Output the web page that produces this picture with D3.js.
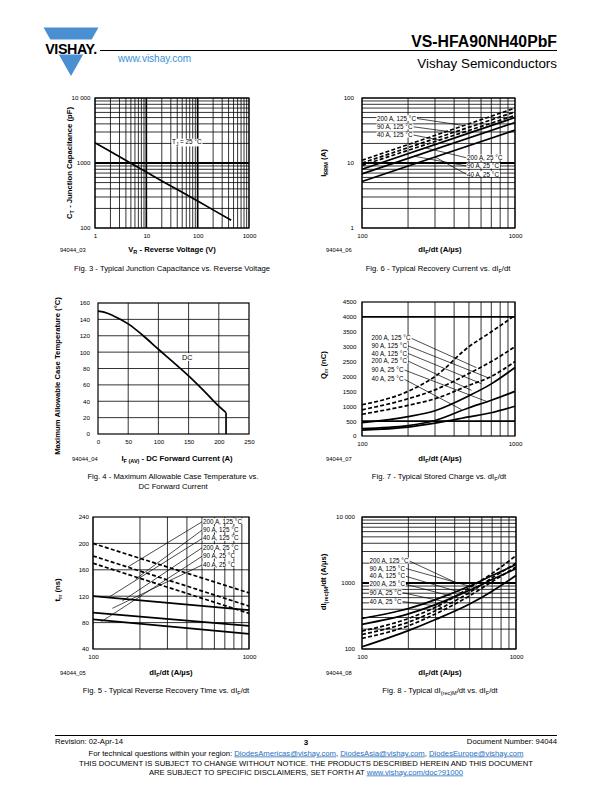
<!DOCTYPE html>
<html><head><meta charset="utf-8">
<script src="https://cdn.jsdelivr.net/npm/d3@7"></script>
<style>body{margin:0;background:#fff}svg{display:block}</style>
</head><body><svg id="page" width="612" height="792"></svg>
<script>
// ---------------- DATA ----------------
const seriesNames = ["200 A, 125 °C","90 A, 125 °C","40 A, 125 °C","200 A, 25 °C","90 A, 25 °C","40 A, 25 °C"];
const seriesTempC = [125,125,125,25,25,25];

const fig3VR = [1,2,5,10,20,50,100,200,450];
const fig3CT = [2050,1500,990,725,530,355,260,190,132];
const fig3XTicks = [1,10,100,1000];
const fig3YTicks = [100,1000,10000];
const fig3YTickLabels = ["100","1000","10 000"];

const fig4IF = [0,10,25,50,75,100,125,150,175,200,212];
const fig4TC = [150,148.8,144.5,134.5,120,103.5,87.5,71,53,34,26];
const fig4XTicks = [0,50,100,150,200,250];
const fig4YTicks = [0,20,40,60,80,100,120,140,160];

const fig6dIdt = [100,1000];
const fig6IRRM = [[11,70],[10,61],[9.2,54],[8,50],[6.8,42],[5.2,32]];
const fig6LeaderEnd = [[463,37.7],[400,29.7],[320,22.5],[260,17.1],[220,12.7],[300,12.4]];
const fig6YTicks = [1,10,100];

const fig7dIdt = [100,200,300,500,700,1000];
const fig7Qrr = [
  [1050,1500,2000,3000,3500,4050],
  [880,1250,1550,2100,2500,3000],
  [730,1030,1250,1700,2000,2500],
  [450,650,850,1350,1750,2300],
  [250,350,520,950,1200,1500],
  [200,300,430,640,780,1000]];
const fig7LeaderEnd = [[560,2294],[667,1958],[603,1757],[520,1533],[667,1141],[448,884]];
const fig7YTicks = [0,500,1000,1500,2000,2500,3000,3500,4000,4500];

const fig5dIdt = [100,1000];
const fig5trr = [[200,125],[181,105],[170,94],[120,99],[95,75],[85,63]];
const fig5LeaderEnd = [[167.6,164.5],[187.6,145.9],[127.9,119.2],[154.1,112.7],[113.1,81.5],[133,101.6]];
const fig5YTicks = [40,80,120,160,200,240];

const fig8dIdt = [100,200,300,500,700,1000];
const fig8dIrec = [
  [187,290,430,850,1400,2600],
  [166,255,380,720,1200,2000],
  [145,225,340,640,1050,1750],
  [290,410,560,900,1300,1900],
  [236,340,470,780,1130,1650],
  [108,190,280,480,750,1300]];
const fig8LeaderEnd = [[419,982],[565,826],[498,657],[429,587],[389,490],[326,437]];
const fig8YTicks = [100,1000,10000];
const fig8YTickLabels = ["100","1000","10 000"];

const dIdtTicks = [100,1000];

// ---------------- HELPERS ----------------
const svg = d3.select("#page");
const F = "'Liberation Sans', Arial, Helvetica, sans-serif";
const TITLE = 7.7, CAP = 7.7, FOOT = 7.7;

function rich(t, parts, fs){
  let down = false;
  parts.forEach(p=>{
    const isSub = typeof p === "object";
    const s = t.append("tspan").text(isSub ? p.sub : p);
    if(isSub){ s.attr("font-size", fs*0.72); if(!down) s.attr("dy", fs*0.3); down = true; }
    else { if(down) s.attr("dy", -fs*0.3); down = false; }
  });
  return t;
}
function txt(x, y, parts, fs, o={}){
  const t = svg.append("text").attr("x",x).attr("y",y).attr("font-size",fs).attr("font-family",F)
    .attr("text-anchor", o.anchor||"start").attr("font-weight", o.bold?"bold":"normal")
    .attr("fill", o.fill||"#000");
  if(o.rotate) t.attr("transform", `rotate(-90 ${x} ${y})`);
  rich(t, Array.isArray(parts)?parts:[parts], fs);
  return t;
}

function chart(o){
  const g = svg.append("g");
  const [xl,xr] = o.x.range(), [yb,yt] = o.y.range();
  g.selectAll(null).data(o.xGrid).join("line")
    .attr("x1",d=>o.x(d)).attr("x2",d=>o.x(d)).attr("y1",yt).attr("y2",yb)
    .attr("stroke","#000").attr("stroke-width",d=>(o.xThick||[]).includes(d)?1.7:0.8);
  g.selectAll(null).data(o.yGrid).join("line")
    .attr("y1",d=>o.y(d)).attr("y2",d=>o.y(d)).attr("x1",xl).attr("x2",xr)
    .attr("stroke","#000").attr("stroke-width",d=>(o.yThick||[]).includes(d)?1.9:0.8);
  g.append("rect").attr("x",xl).attr("y",yt).attr("width",xr-xl).attr("height",yb-yt)
    .attr("fill","none").attr("stroke","#000").attr("stroke-width",1.2);
  const ax = g.append("g").attr("transform",`translate(0,${yb+5.5})`)
    .call(d3.axisBottom(o.x).tickValues(o.xTicks).tickFormat((d,i)=>o.xTickLabels?o.xTickLabels[i]:d).tickSize(0).tickPadding(0));
  const ay = g.append("g").attr("transform",`translate(${xl-o.yOff},0)`)
    .call(d3.axisLeft(o.y).tickValues(o.yTicks).tickFormat((d,i)=>o.yTickLabels?o.yTickLabels[i]:d).tickSize(0).tickPadding(0));
  [ax,ay].forEach(a=>{ a.select(".domain").remove(); a.attr("font-size",6.2).attr("font-family",F); });
  return g;
}
function curve(o, xs, ys, dashed, cv){
  const line = d3.line().x((d,i)=>o.x(xs[i])).y(d=>o.y(d)).curve(cv||d3.curveLinear);
  svg.append("path").datum(ys).attr("d",line).attr("fill","none").attr("stroke","#000")
    .attr("stroke-width",1.7).attr("stroke-dasharray",dashed?"4,2.2":null);
}
function callout(o, label, lx, ly, end, fs){
  const t = txt(lx, ly+2.1, label, fs||6.3);
  const b = t.node().getBBox();
  if(end){
    const ex = o.x(end[0]), ey = o.y(end[1]);
    const sx = ex > b.x + b.width/2 ? b.x + b.width + 0.5 : b.x - 0.5;
    svg.insert("line", ()=>t.node()).attr("x1",sx).attr("y1",ly).attr("x2",ex).attr("y2",ey)
      .attr("stroke","#000").attr("stroke-width",0.7);
  }
  svg.insert("rect", ()=>t.node()).attr("x",b.x-0.5).attr("y",b.y+0.6).attr("width",b.width+1).attr("height",b.height-1.2).attr("fill","#fff");
  return t;
}

// ---------------- HEADER ----------------
svg.append("polygon").attr("points","43.5,27.5 98.5,27.5 71,76").attr("fill","#4b8fd3");
svg.append("rect").attr("x",40).attr("y",39.5).attr("width",62).attr("height",15).attr("fill","#fff");
txt(71, 53.5, "VISHAY.", 14.3, {anchor:"middle", bold:true}).attr("letter-spacing",-0.4);
txt(118, 61.5, "www.vishay.com", 10, {fill:"#3a8fd6"});
txt(557, 46.5, "VS-HFA90NH40PbF", 15.8, {anchor:"end", bold:true});
svg.append("line").attr("x1",100).attr("x2",557).attr("y1",50.5).attr("y2",50.5).attr("stroke","#000").attr("stroke-width",1);
txt(557, 67.5, "Vishay Semiconductors", 13.4, {anchor:"end"});

// ---------------- FIG 3 ----------------
{
  const o = {x:d3.scaleLog().domain([1,1000]).range([95,249]), y:d3.scaleLog().domain([100,10000]).range([228,98])};
  o.xGrid = o.x.ticks(); o.yGrid = o.y.ticks(); o.xThick=[10,100]; o.yThick=[1000];
  o.xTicks = fig3XTicks; o.yTicks = fig3YTicks; o.yTickLabels = fig3YTickLabels; o.yOff = 4.5;
  chart(o);
  curve(o, fig3VR, fig3CT, false);
  callout(o, ["T",{sub:"J"}," = 25 °C"], 172, 142, null, 6.4);
  txt(60, 251.5, "94044_03", 5.8);
  txt(172, 251.5, ["V",{sub:"R"}," - Reverse Voltage (V)"], TITLE, {anchor:"middle", bold:true});
  txt(72, 163, ["C",{sub:"T"}," - Junction Capacitance (pF)"], TITLE, {anchor:"middle", bold:true, rotate:true});
  txt(172, 271, "Fig. 3 - Typical Junction Capacitance vs. Reverse Voltage", CAP, {anchor:"middle"});
}

// ---------------- FIG 6 ----------------
{
  const o = {x:d3.scaleLog().domain([100,1000]).range([362,515]), y:d3.scaleLog().domain([1,100]).range([228,98])};
  o.xGrid = o.x.ticks(); o.yGrid = o.y.ticks(); o.yThick=[10];
  o.xTicks = dIdtTicks; o.yTicks = fig6YTicks; o.yOff = 8;
  chart(o);
  fig6IRRM.forEach((ys,i)=>curve(o, fig6dIdt, ys, seriesTempC[i]===125));
  const ly = [118.5,126.8,135,157.8,166,174.4];
  seriesNames.forEach((s,i)=>callout(o, s, i<3?377:467, ly[i], fig6LeaderEnd[i]));
  txt(326, 251.5, "94044_06", 5.8);
  txt(440, 251.5, ["dI",{sub:"F"},"/dt (A/µs)"], TITLE, {anchor:"middle", bold:true});
  txt(326, 163, ["I",{sub:"RRM"}," (A)"], TITLE, {anchor:"middle", bold:true, rotate:true});
  txt(438, 271, ["Fig. 6 - Typical Recovery Current vs. dI",{sub:"F"},"/dt"], CAP, {anchor:"middle"});
}

// ---------------- FIG 4 ----------------
{
  const o = {x:d3.scaleLinear().domain([0,250]).range([98,249]), y:d3.scaleLinear().domain([0,160]).range([434,303])};
  o.xGrid = [50,100,150,200]; o.yGrid = [20,40,60,80,100,120,140];
  o.xTicks = fig4XTicks; o.yTicks = fig4YTicks; o.yOff = 8;
  chart(o);
  callout(o, "DC", 182, 357.5, null, 7.2);
  curve(o, fig4IF, fig4TC, false, d3.curveMonotoneX);
  const n = fig4IF.length-1;
  curve(o, [fig4IF[n],fig4IF[n]], [fig4TC[n],0], false);
  txt(72, 461, "94044_04", 5.8);
  txt(177, 461, ["I",{sub:"F (AV)"}," - DC Forward Current (A)"], TITLE, {anchor:"middle", bold:true});
  txt(60, 376, "Maximum  Allowable Case Temperature (°C)", TITLE, {anchor:"middle", bold:true, rotate:true});
  txt(173, 479, "Fig. 4 - Maximum Allowable Case Temperature vs.", CAP, {anchor:"middle"});
  txt(173, 488.5, "DC Forward Current", CAP, {anchor:"middle"});
}

// ---------------- FIG 7 ----------------
{
  const o = {x:d3.scaleLog().domain([100,1000]).range([362,515]), y:d3.scaleLinear().domain([0,4500]).range([436,302])};
  o.xGrid = o.x.ticks(); o.yGrid = [500,4000]; o.yThick=[500,4000];
  o.xTicks = dIdtTicks; o.yTicks = fig7YTicks; o.yOff = 5.5;
  chart(o);
  fig7Qrr.forEach((ys,i)=>curve(o, fig7dIdt, ys, seriesTempC[i]===125, d3.curveMonotoneX));
  const ly = [338.3,345.8,353.4,361,370,379.3];
  seriesNames.forEach((s,i)=>callout(o, s, 371.5, ly[i], fig7LeaderEnd[i]));
  txt(326, 461, "94044_07", 5.8);
  txt(440, 461, ["dI",{sub:"F"},"/dt (A/µs)"], TITLE, {anchor:"middle", bold:true});
  txt(326, 365, ["Q",{sub:"rr"}," (nC)"], TITLE, {anchor:"middle", bold:true, rotate:true});
  txt(439, 479, ["Fig. 7 - Typical Stored Charge vs. dI",{sub:"F"},"/dt"], CAP, {anchor:"middle"});
}

// ---------------- FIG 5 ----------------
{
  const o = {x:d3.scaleLog().domain([100,1000]).range([93,249]), y:d3.scaleLinear().domain([40,240]).range([649,517])};
  o.xGrid = o.x.ticks(); o.yGrid = [80,120,160,200];
  o.xTicks = dIdtTicks; o.yTicks = fig5YTicks; o.yOff = 4;
  chart(o);
  fig5trr.forEach((ys,i)=>curve(o, fig5dIdt, ys, seriesTempC[i]===125));
  const ly = [521.5,529.8,538.3,547.5,556,564.8];
  seriesNames.forEach((s,i)=>callout(o, s, 203, ly[i], fig5LeaderEnd[i]));
  txt(60, 675, "94044_05", 5.8);
  txt(171, 675, ["dI",{sub:"F"},"/dt (A/µs)"], TITLE, {anchor:"middle", bold:true});
  txt(60, 590, ["t",{sub:"rr"}," (ns)"], TITLE, {anchor:"middle", bold:true, rotate:true});
  txt(166, 692.5, ["Fig. 5 - Typical Reverse Recovery Time vs. dI",{sub:"F"},"/dt"], CAP, {anchor:"middle"});
}

// ---------------- FIG 8 ----------------
{
  const o = {x:d3.scaleLog().domain([100,1000]).range([362,516]), y:d3.scaleLog().domain([100,10000]).range([649,517])};
  o.xGrid = o.x.ticks(); o.yGrid = o.y.ticks(); o.yThick=[1000];
  o.xTicks = dIdtTicks; o.yTicks = fig8YTicks; o.yTickLabels = fig8YTickLabels; o.yOff = 7;
  chart(o);
  fig8dIrec.forEach((ys,i)=>curve(o, fig8dIdt, ys, seriesTempC[i]===125, d3.curveMonotoneX));
  const ly = [561,568.5,576.3,584.3,592.7,601.5];
  seriesNames.forEach((s,i)=>callout(o, s, 369.5, ly[i], fig8LeaderEnd[i]));
  txt(326, 675, "94044_08", 5.8);
  txt(440, 675, ["dI",{sub:"F"},"/dt (A/µs)"], TITLE, {anchor:"middle", bold:true});
  txt(326, 582, ["dI",{sub:"(rec)M"},"/dt (A/µs)"], TITLE, {anchor:"middle", bold:true, rotate:true});
  txt(440, 692.5, ["Fig. 8 - Typical dI",{sub:"(rec)M"},"/dt vs. dI",{sub:"F"},"/dt"], CAP, {anchor:"middle"});
}

// ---------------- FOOTER ----------------
svg.append("line").attr("x1",55).attr("x2",557).attr("y1",735.5).attr("y2",735.5).attr("stroke","#000").attr("stroke-width",1);
txt(55, 744, "Revision: 02-Apr-14", FOOT);
txt(306, 745, "3", 8, {anchor:"middle", bold:true});
txt(557, 744, "Document Number: 94044", FOOT, {anchor:"end"});
{
  const t = svg.append("text").attr("x",306).attr("y",755.5).attr("font-size",FOOT).attr("font-family",F).attr("text-anchor","middle");
  const link = s => t.append("tspan").text(s).attr("fill","#1f6fc0").attr("text-decoration","underline");
  t.append("tspan").text("For technical questions within your region: ");
  link("DiodesAmericas@vishay.com"); t.append("tspan").text(", ");
  link("DiodesAsia@vishay.com"); t.append("tspan").text(", ");
  link("DiodesEurope@vishay.com");
}
txt(306, 766, "THIS DOCUMENT IS SUBJECT TO CHANGE WITHOUT NOTICE. THE PRODUCTS DESCRIBED HEREIN AND THIS DOCUMENT", FOOT, {anchor:"middle"});
{
  const t = svg.append("text").attr("x",306).attr("y",774.5).attr("font-size",FOOT).attr("font-family",F).attr("text-anchor","middle");
  t.append("tspan").text("ARE SUBJECT TO SPECIFIC DISCLAIMERS, SET FORTH AT ");
  t.append("tspan").text("www.vishay.com/doc?91000").attr("fill","#1f6fc0").attr("text-decoration","underline");
}
</script></body></html>
